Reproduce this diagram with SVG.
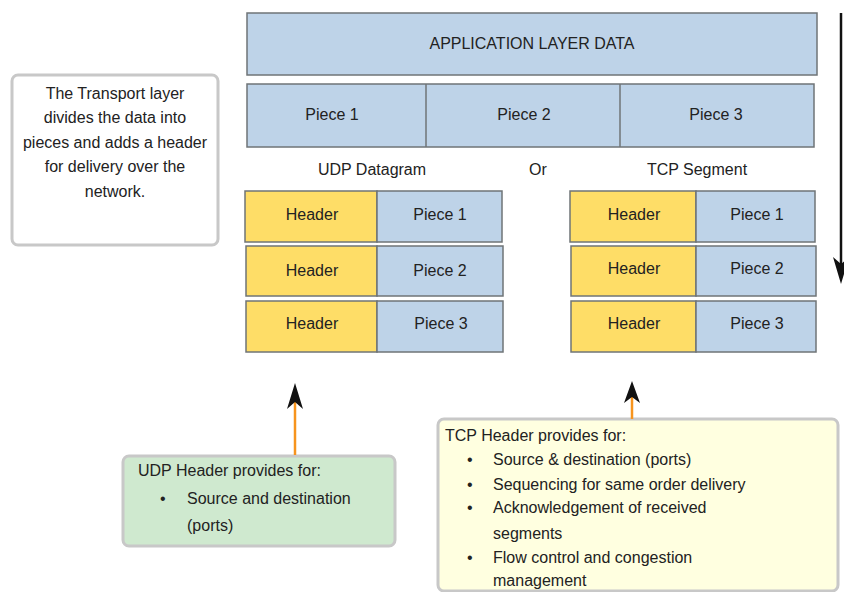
<svg xmlns="http://www.w3.org/2000/svg" width="844" height="592" viewBox="0 0 844 592">
<style>
text{font-family:"Liberation Sans",Arial,sans-serif;font-size:16px;fill:#222}
.c{text-anchor:middle}
.blue{fill:#bed3e8;stroke:#6f7477;stroke-width:1.5}
.yel{fill:#fedd67;stroke:#6f7477;stroke-width:1.5}
.div{stroke:#6f7477;stroke-width:1.5}
.note{stroke:#c8c8c8;stroke-width:3}
.orange{stroke:#f7941d;stroke-width:2.5;fill:none}
</style>
<rect width="844" height="592" fill="#fff"/>
<g id="intro">
<rect class="note" x="12" y="75" width="206" height="170" rx="6" fill="#fff"/>
<text class="c" x="115" y="99">The Transport layer</text>
<text class="c" x="115" y="123">divides the data into</text>
<text class="c" x="115" y="148">pieces and adds a header</text>
<text class="c" x="115" y="172">for delivery over the</text>
<text class="c" x="115" y="197">network.</text>
</g>
<g id="appdata">
<rect class="blue" x="247" y="13" width="570" height="62"/>
<text class="c" x="532" y="49">APPLICATION LAYER DATA</text>
</g>
<g id="pieces">
<rect class="blue" x="247" y="84" width="567" height="63"/>
<line class="div" x1="426" y1="84" x2="426" y2="147"/>
<line class="div" x1="620" y1="84" x2="620" y2="147"/>
<text class="c" x="332" y="120">Piece 1</text>
<text class="c" x="524" y="120">Piece 2</text>
<text class="c" x="716" y="120">Piece 3</text>
</g>
<g id="labels">
<text class="c" x="372" y="175">UDP Datagram</text>
<text class="c" x="538" y="175">Or</text>
<text class="c" x="697" y="175">TCP Segment</text>
</g>
<g id="udp1">
<rect class="yel" x="245" y="191" width="132" height="51"/>
<rect class="blue" x="377" y="191" width="125" height="51"/>
<text class="c" x="312" y="220">Header</text>
<text class="c" x="440" y="220">Piece 1</text>
</g>
<g id="udp2">
<rect class="yel" x="246" y="246" width="131" height="50"/>
<rect class="blue" x="377" y="246" width="126" height="50"/>
<text class="c" x="312" y="276">Header</text>
<text class="c" x="440" y="276">Piece 2</text>
</g>
<g id="udp3">
<rect class="yel" x="246" y="301" width="131" height="51"/>
<rect class="blue" x="377" y="301" width="126" height="51"/>
<text class="c" x="312" y="329">Header</text>
<text class="c" x="441" y="329">Piece 3</text>
</g>
<g id="tcp1">
<rect class="yel" x="570" y="191" width="126" height="51"/>
<rect class="blue" x="696" y="191" width="119" height="51"/>
<text class="c" x="634" y="220">Header</text>
<text class="c" x="757" y="220">Piece 1</text>
</g>
<g id="tcp2">
<rect class="yel" x="571" y="246" width="125" height="50"/>
<rect class="blue" x="696" y="246" width="120" height="50"/>
<text class="c" x="634" y="274">Header</text>
<text class="c" x="757" y="274">Piece 2</text>
</g>
<g id="tcp3">
<rect class="yel" x="571" y="301" width="125" height="51"/>
<rect class="blue" x="696" y="301" width="120" height="51"/>
<text class="c" x="634" y="329">Header</text>
<text class="c" x="757" y="329">Piece 3</text>
</g>
<g id="udpnote">
<rect class="note" x="123" y="456" width="272" height="90" rx="6" fill="#cfe9cf"/>
<text x="138" y="476">UDP Header provides for:</text>
<text x="160" y="504">•</text>
<text x="187" y="504">Source and destination</text>
<text x="187" y="531">(ports)</text>
</g>
<g id="tcpnote">
<rect class="note" x="438" y="419" width="400" height="172" rx="6" fill="#ffffe0"/>
<text x="445" y="441">TCP Header provides for:</text>
<text x="467" y="465">•</text>
<text x="493" y="465">Source &amp; destination (ports)</text>
<text x="467" y="490">•</text>
<text x="493" y="490">Sequencing for same order delivery</text>
<text x="467" y="513">•</text>
<text x="493" y="513">Acknowledgement of received</text>
<text x="493" y="539">segments</text>
<text x="467" y="563">•</text>
<text x="493" y="563">Flow control and congestion</text>
<text x="493" y="586">management</text>
</g>
<g id="connectors">
<line x1="841" y1="13" x2="841" y2="266" stroke="#111" stroke-width="2.5"/>
<path d="M841,284 L833,257 L841,264 L849,257 Z" fill="#111"/>
<line class="orange" x1="295" y1="455" x2="295" y2="402"/>
<path d="M295,383 L287,409 L295,402 L303,409 Z" fill="#111"/>
<line class="orange" x1="632" y1="419" x2="632" y2="397"/>
<path d="M632,381 L624,403 L632,397 L640,403 Z" fill="#111"/>
</g>
</svg>
